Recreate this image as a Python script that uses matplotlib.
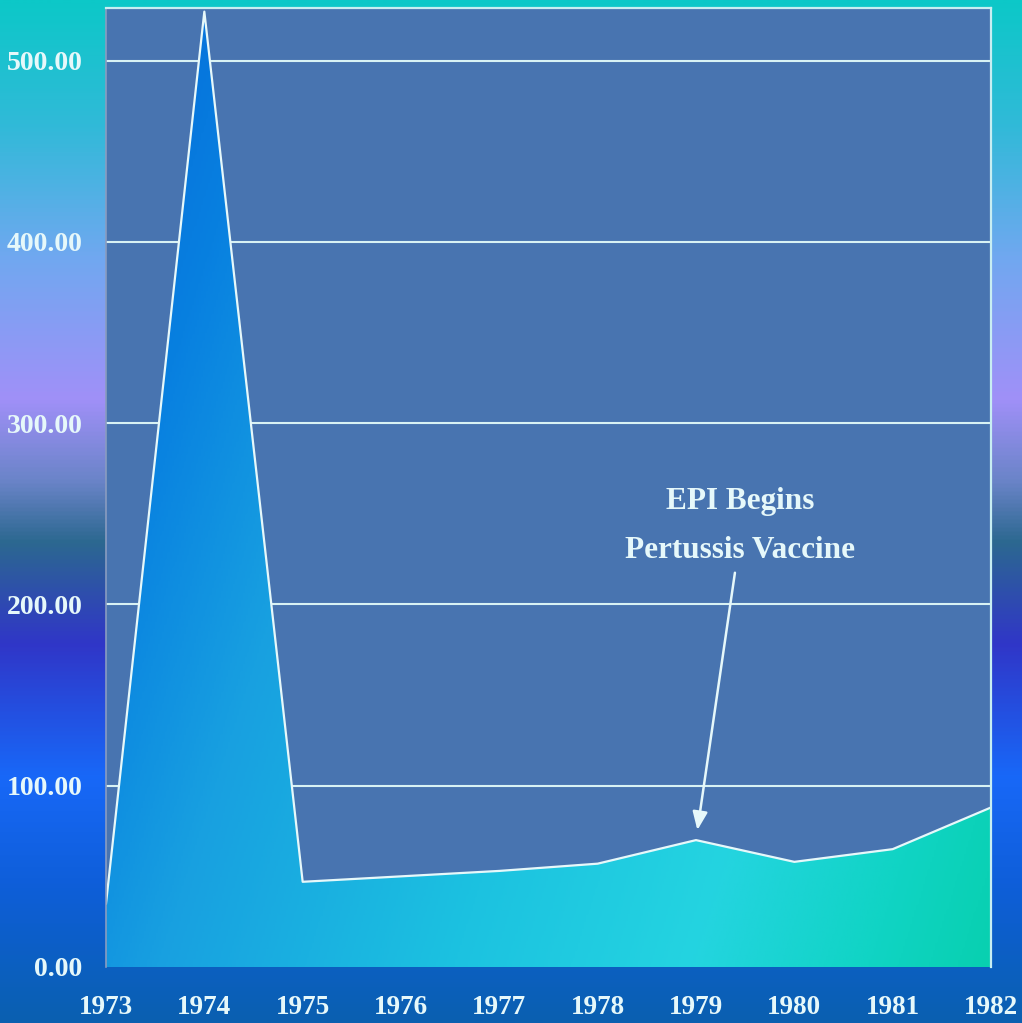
import matplotlib
matplotlib.use("Agg")
import matplotlib.pyplot as plt
import numpy as np
from matplotlib.colors import LinearSegmentedColormap
from matplotlib.patches import Polygon

# Werte
jahre = [1973, 1974, 1975, 1976, 1977, 1978, 1979, 1980, 1981, 1982]
faelle = [35, 527, 47, 50, 53, 57, 70, 58, 65, 88]
y_ticks = [0, 100, 200, 300, 400, 500]
text_oben = "EPI Begins"
text_unten = "Pertussis Vaccine"

schrift = ["Liberation Serif", "DejaVu Serif"]
weiss = "#e6f8fa"

fig = plt.figure(figsize=(10.22, 10.23), dpi=100)

# Hintergrundverlauf (vertikal)
bg_farben = [
    (0.00, "#0cc8c8"),
    (0.12, "#30bad8"),
    (0.25, "#70a8f0"),
    (0.39, "#a090f8"),
    (0.47, "#6a84c8"),
    (0.53, "#2c6890"),
    (0.63, "#3036c8"),
    (0.76, "#1868f8"),
    (0.87, "#0e5ed8"),
    (1.00, "#0a60b0"),
]
bg_cmap = LinearSegmentedColormap.from_list("bg", bg_farben)
bg_ax = fig.add_axes([0, 0, 1, 1])
bg_ax.imshow(np.linspace(0, 1, 512).reshape(-1, 1), cmap=bg_cmap,
             aspect="auto", extent=[0, 1, 0, 1], origin="upper")
bg_ax.axis("off")

ax = fig.add_axes([106 / 1022, 56 / 1023, 885 / 1022, 959 / 1023])
ax.set_facecolor("#4874b0")
y_max = 529
ax.set_xlim(jahre[0], jahre[-1])
ax.set_ylim(0, y_max)

# Flaechenfuellung mit Farbverlauf
fuell_farben = [
    (0.00, "#0468d8"),
    (0.15, "#0880e0"),
    (0.30, "#18a0e0"),
    (0.55, "#1cc2e0"),
    (0.75, "#24d4e0"),
    (0.90, "#10d4c4"),
    (1.00, "#08d0b0"),
]
fuell_cmap = LinearSegmentedColormap.from_list("fuell", fuell_farben)
gx, gy = np.meshgrid(np.linspace(0, 1, 400), np.linspace(0, 1, 400))
t = gx - 0.35 * gy
t = (t + 0.35) / 1.35
verlauf = ax.imshow(t, cmap=fuell_cmap, aspect="auto", origin="lower",
                    extent=[jahre[0], jahre[-1], 0, y_max], zorder=1)
ecken = [(jahre[0], 0)] + list(zip(jahre, faelle)) + [(jahre[-1], 0)]
flaeche = Polygon(ecken, closed=True, facecolor="none", edgecolor="none")
ax.add_patch(flaeche)
verlauf.set_clip_path(flaeche)

ax.plot(jahre, faelle, color=weiss, linewidth=1.6, zorder=3)

ax.set_yticks(y_ticks)
ax.set_yticklabels([f"{v:.2f}" for v in y_ticks])
ax.set_xticks(jahre)
ax.set_xticklabels([str(j) for j in jahre])
ax.tick_params(axis="y", length=0, pad=17, labelsize=20, labelcolor=weiss)
ax.tick_params(axis="x", length=0, pad=20, labelsize=19.5, labelcolor=weiss)
for lab in ax.get_xticklabels() + ax.get_yticklabels():
    lab.set_family(schrift)
    lab.set_fontweight("bold")

ax.grid(axis="y", color="#d8f2f4", linewidth=1.5)
ax.set_axisbelow(True)

ax.spines["bottom"].set_visible(False)
ax.spines["left"].set_color("#8a9cc0")
ax.spines["left"].set_linewidth(1.2)
ax.spines["top"].set_color("#c8eef2")
ax.spines["top"].set_linewidth(1.6)
ax.spines["right"].set_color("#c8eef2")
ax.spines["right"].set_linewidth(1.6)
for s in ax.spines.values():
    s.set_zorder(4)

# Beschriftung mit Pfeil
ax.text(1979.45, 257, text_oben, ha="center", va="center", color=weiss,
        fontsize=22.5, fontweight="bold", family=schrift, zorder=5)
ax.text(1979.45, 230, text_unten, ha="center", va="center", color=weiss,
        fontsize=22.5, fontweight="bold", family=schrift, zorder=5)
ax.annotate("", xy=(1979.01, 74), xytext=(1979.40, 219),
            arrowprops=dict(arrowstyle="-|>,head_length=1.1,head_width=0.45",
                            color=weiss, linewidth=1.8), zorder=5)

fig.savefig("out.png", dpi=100)
